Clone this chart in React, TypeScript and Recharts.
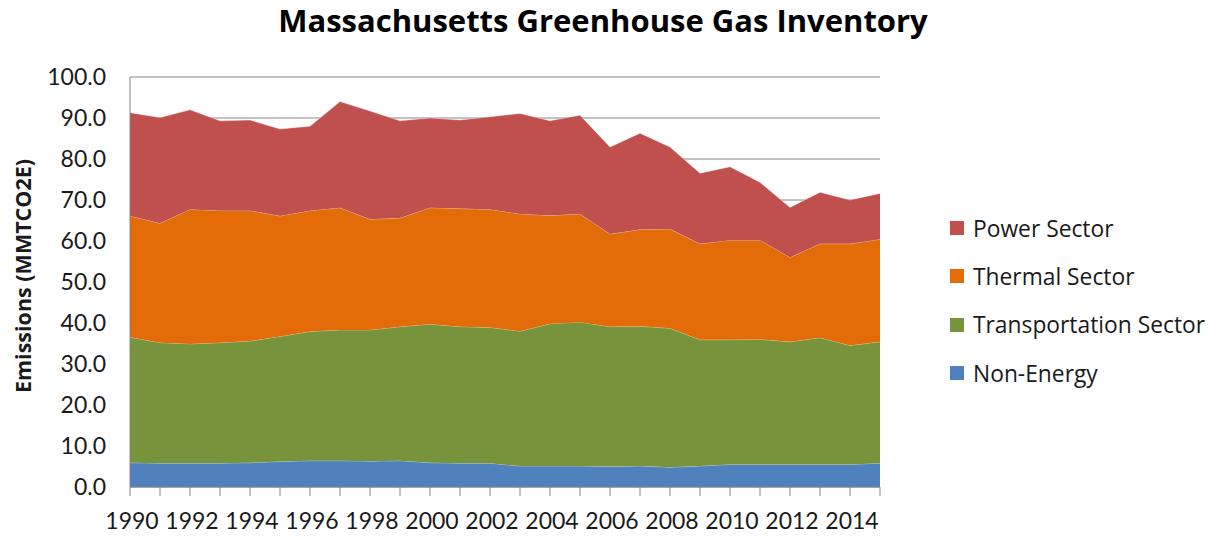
import React from "react";
import {
  AreaChart,
  Area,
  XAxis,
  YAxis,
  CartesianGrid,
  Legend,
} from "recharts";

const years = [
  "1990", "1991", "1992", "1993", "1994", "1995", "1996", "1997", "1998",
  "1999", "2000", "2001", "2002", "2003", "2004", "2005", "2006", "2007",
  "2008", "2009", "2010", "2011", "2012", "2013", "2014", "2015",
];

const nonEnergy = [
  5.9, 5.8, 5.8, 5.8, 5.9, 6.2, 6.4, 6.4, 6.3, 6.4, 5.9, 5.8, 5.8, 5.1, 5.1,
  5.1, 5.0, 5.1, 4.8, 5.1, 5.5, 5.5, 5.5, 5.5, 5.5, 5.8,
];
const transportation = [
  30.6, 29.4, 29.1, 29.4, 29.7, 30.5, 31.5, 31.9, 32.0, 32.7, 33.8, 33.3, 33.1,
  32.9, 34.7, 35.1, 34.1, 34.1, 33.9, 30.8, 30.4, 30.5, 29.9, 30.9, 29.0, 29.6,
];
const thermal = [
  29.6, 29.1, 32.8, 32.2, 31.8, 29.4, 29.5, 29.8, 27.0, 26.5, 28.4, 28.8, 28.8,
  28.6, 26.4, 26.4, 22.6, 23.6, 24.2, 23.4, 24.3, 24.2, 20.6, 22.9, 24.8, 25.0,
];
const power = [
  25.2, 25.8, 24.3, 21.9, 22.1, 21.2, 20.6, 25.9, 26.4, 23.7, 21.9, 21.6, 22.6,
  24.5, 23.1, 24.1, 21.2, 23.5, 20.0, 17.2, 17.9, 14.1, 12.2, 12.6, 10.7, 11.2,
];

const yTicks = [0, 10, 20, 30, 40, 50, 60, 70, 80, 90, 100];

// stacking order, bottom first
const series = [
  { key: "nonEnergy", name: "Non-Energy", color: "#4F81BD" },
  { key: "transportation", name: "Transportation Sector", color: "#77933C" },
  { key: "thermal", name: "Thermal Sector", color: "#E36C09" },
  { key: "power", name: "Power Sector", color: "#C0504D" },
];

const data = years.map((year, i) => ({
  year,
  nonEnergy: nonEnergy[i],
  transportation: transportation[i],
  thermal: thermal[i],
  power: power[i],
}));

const FONT = "Lato, 'Open Sans', sans-serif";
const WIDE = "'Open Sans', Lato, sans-serif";
const TEXT = "#1a1a1a";
const AXIS = "#868686";

function YearTick(props: any) {
  const { x, y, payload, index } = props;
  if (index % 2 !== 0) return <g />;
  return (
    <text
      x={x + 2}
      y={y}
      dy="0.71em"
      textAnchor="middle"
      fontSize={23}
      fontFamily={FONT}
      fill={TEXT}
    >
      {payload.value}
    </text>
  );
}

function YLabel(props: any) {
  const vb = props.viewBox || { x: 0, y: 77, height: 410 };
  const cx = 22;
  const cy = vb.y + vb.height / 2 - 6;
  return (
    <text
      x={cx}
      y={cy}
      transform={`rotate(-90, ${cx}, ${cy})`}
      textAnchor="middle"
      dominantBaseline="central"
      fontSize={21.5}
      fontWeight={700}
      fontFamily={WIDE}
      fill={TEXT}
    >
      Emissions (MMTCO2E)
    </text>
  );
}

function LegendBox() {
  const items = [...series].reverse();
  return (
    <div style={{ fontFamily: WIDE }}>
      {items.map((s) => (
        <div
          key={s.key}
          style={{ display: "flex", alignItems: "center", height: 48.3 }}
        >
          <span
            style={{
              width: 14,
              height: 14,
              background: s.color,
              display: "inline-block",
              marginRight: 9,
            }}
          />
          <span style={{ fontSize: 22.8, color: TEXT }}>{s.name}</span>
        </div>
      ))}
    </div>
  );
}

export default function App() {
  return (
    <div
      style={{
        position: "absolute",
        left: 0,
        top: 0,
        width: 1220,
        height: 537,
        background: "#fff",
      }}
    >
      <div
        style={{
          position: "absolute",
          left: 0,
          top: 4,
          width: 1206,
          textAlign: "center",
          fontFamily: WIDE,
          fontWeight: 700,
          fontSize: 31,
          lineHeight: "33px",
          color: "#000",
        }}
      >
        Massachusetts Greenhouse Gas Inventory
      </div>
      <AreaChart
        width={1220}
        height={537}
        data={data}
        margin={{ top: 77, right: 340, bottom: 0, left: 0 }}
      >
        <CartesianGrid vertical={false} stroke={AXIS} strokeWidth={1} />
        <XAxis
          dataKey="year"
          scale="point"
          padding={{ left: 0, right: 0 }}
          interval={0}
          height={50}
          tickSize={9}
          tickMargin={17}
          axisLine={{ stroke: AXIS }}
          tickLine={{ stroke: AXIS }}
          tick={<YearTick />}
        />
        <YAxis
          width={130}
          domain={[0, 100]}
          ticks={yTicks}
          interval={0}
          tickLine={false}
          tickSize={6}
          tickMargin={18}
          axisLine={{ stroke: AXIS }}
          tickFormatter={(v: number) => v.toFixed(1)}
          tick={{ fontSize: 23, fontFamily: FONT, fill: TEXT }}
          label={<YLabel />}
        />
        <Legend
          layout="vertical"
          align="center"
          verticalAlign="middle"
          wrapperStyle={{ left: 950, top: 204, width: 270 }}
          content={<LegendBox />}
        />
        {series.map((s) => (
          <Area
            key={s.key}
            type="linear"
            dataKey={s.key}
            name={s.name}
            stackId="ghg"
            fill={s.color}
            fillOpacity={1}
            stroke="rgba(255,255,255,0.35)"
            strokeWidth={1}
            isAnimationActive={false}
          />
        ))}
      </AreaChart>
    </div>
  );
}
